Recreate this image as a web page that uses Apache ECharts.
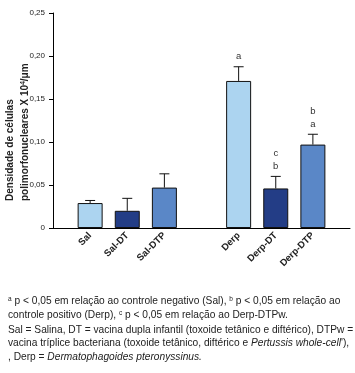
<!DOCTYPE html>
<html>
<head>
<meta charset="utf-8">
<script src="https://cdn.jsdelivr.net/npm/echarts@6/dist/echarts.min.js"></script>
<style>
html,body{margin:0;padding:0;background:#fff;}
#c{width:355px;height:373px;}
</style>
</head>
<body>
<div id="c"></div>
<script>
var categories = ["", "Sal", "Sal-DT", "Sal-DTP", "", "Derp", "Derp-DT", "Derp-DTP", ""];
var means = [null, 0.029, 0.020, 0.047, null, 0.171, 0.046, 0.097, null];
var errTops = [null, 0.032, 0.0345, 0.063, null, 0.1875, 0.060, 0.109, null];
var annotations = ["", "", "", "", "", "a", "c\nb", "b\na", ""];
var barColors = ["#ffffff", "#acd4f0", "#233d86", "#5a87c7", "#ffffff", "#acd4f0", "#233d86", "#5a87c7", "#ffffff"];
var yTicks = [0, 0.05, 0.10, 0.15, 0.20, 0.25];
var yTitle = ["Densidade de células", "polimorfonucleares X 10{s|4}/\u03bcm"];

var chart = echarts.init(document.getElementById('c'), null, {renderer: 'canvas'});
var FONT = 'Liberation Sans';
var TXT = '#222';
var FS = 10.2;

var barData = means.map(function (v, i) {
  return {value: v, itemStyle: {color: barColors[i]}};
});
var errData = means.map(function (v, i) { return [i, v, errTops[i], annotations[i]]; })
  .filter(function (d) { return d[1] !== null; });

function fnLine(y, parts) {
  return {
    type: 'text', left: 8, top: y,
    style: {
      text: parts.map(function (p) { return '{' + p[0] + '|' + p[1] + '}'; }).join(''),
      rich: {
        n: {fontFamily: FONT, fontSize: FS, fill: TXT},
        i: {fontFamily: FONT, fontSize: FS, fontStyle: 'italic', fill: TXT},
        s: {fontFamily: FONT, fontSize: 6.5, fill: TXT, verticalAlign: 'top', padding: [0, 0, 4, 0]}
      }
    }
  };
}

function titleLine(x, txt) {
  return {type: 'text', x: x, y: 201, rotation: Math.PI / 2,
    style: {text: '{b|' + txt.replace('{s|4}', '}{s|4}{b|') + '}', textAlign: 'left', textVerticalAlign: 'middle',
      rich: {
        b: {fontFamily: FONT, fontSize: 10, fontWeight: 'bold', fill: TXT},
        s: {fontFamily: FONT, fontSize: 6.5, fontWeight: 'bold', fill: TXT, verticalAlign: 'top', padding: [0, 0, 4, 0]}
      }}};
}

chart.setOption({
  animation: false,
  grid: {left: 53, right: 5, top: 13, bottom: 145, containLabel: false},
  xAxis: {
    type: 'category',
    data: categories,
    boundaryGap: false,
    axisLine: {lineStyle: {color: '#000', width: 1}},
    axisTick: {show: false},
    axisLabel: {
      interval: 0, rotate: 45, margin: 6,
      fontFamily: FONT, fontSize: 9.5, fontWeight: 'bold', color: TXT
    }
  },
  yAxis: {
    type: 'value', min: 0, max: 0.25, interval: 0.05,
    splitLine: {show: false},
    axisLine: {show: true, lineStyle: {color: '#000', width: 1}},
    axisTick: {show: true, length: 4, lineStyle: {color: '#000'}},
    axisLabel: {
      margin: 8, fontFamily: FONT, fontSize: 8, color: TXT,
      formatter: function (v) { return v === 0 ? '0' : v.toFixed(2).replace('.', ','); }
    }
  },
  series: [
    {
      type: 'bar', data: barData, barWidth: 25,
      itemStyle: {borderColor: '#111', borderWidth: 1}
    },
    {
      type: 'custom', data: errData, z: 5,
      renderItem: function (params, api) {
        var x = api.value(0);
        var top = api.coord([x, api.value(1)]);
        var hi = api.coord([x, api.value(2)]);
        var cap = 5;
        var children = [
          {type: 'line', shape: {x1: top[0], y1: top[1], x2: hi[0], y2: hi[1]}, style: {stroke: '#111', lineWidth: 1}},
          {type: 'line', shape: {x1: hi[0] - cap, y1: hi[1], x2: hi[0] + cap, y2: hi[1]}, style: {stroke: '#111', lineWidth: 1}}
        ];
        var ann = api.value(3);
        if (ann) {
          children.push({
            type: 'text', x: hi[0], y: hi[1] - 4,
            style: {text: ann, fontFamily: FONT, fontSize: 9.5, fill: '#333',
              textAlign: 'center', textVerticalAlign: 'bottom', lineHeight: 12.5}
          });
        }
        return {type: 'group', children: children};
      }
    }
  ],
  graphic: [
    titleLine(10, yTitle[0]),
    titleLine(25, yTitle[1]),
    fnLine(296, [['s', 'a'], ['n', ' p < 0,05 em relação ao controle negativo (Sal), '], ['s', 'b'], ['n', ' p < 0,05 em relação ao']]),
    fnLine(310, [['n', 'controle positivo (Derp), '], ['s', 'c'], ['n', ' p < 0,05 em relação ao Derp-DTPw.']]),
    fnLine(325, [['n', 'Sal = Salina, DT = vacina dupla infantil (toxoide tetânico e diftérico), DTPw =']]),
    fnLine(338, [['n', 'vacina tríplice bacteriana (toxoide tetânico, diftérico e '], ['i', 'Pertussis whole-cell'], ['n', '\'),']]),
    fnLine(352, [['n', ', Derp = '], ['i', 'Dermatophagoides pteronyssinus.']])
  ]
});
</script>
</body>
</html>
